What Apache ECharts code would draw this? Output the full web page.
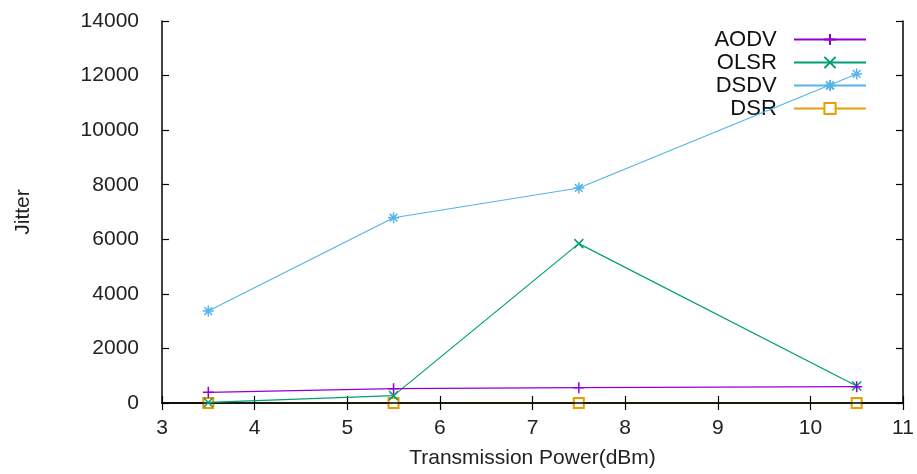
<!DOCTYPE html>
<html><head><meta charset="utf-8">
<script src="https://cdn.jsdelivr.net/npm/echarts@6/dist/echarts.min.js"></script>
<style>html,body{margin:0;padding:0;background:#fff}#c{width:917px;height:474px}</style>
</head><body><div id="c"></div>
<script>
var xValues = [3.5, 5.5, 7.5, 10.5];
var aodv = [390, 525, 560, 600];
var olsr = [20, 270, 5840, 620];
var dsdv = [3370, 6790, 7880, 12060];
var dsr  = [0, 0, 0, 0];
var seriesNames = ['AODV', 'OLSR', 'DSDV', 'DSR'];
var colors = ['#9400d3', '#009e73', '#56b4e9', '#e69f00'];
var xTitle = 'Transmission Power(dBm)';
var yTitle = 'Jitter';

var FONT = 'Liberation Sans';
var symPlus = 'path://M5,0L5,10M0,5L10,5';
var symCross = 'path://M0,0L10,10M10,0L0,10';
var symStar = 'path://M5,0L5,10M0,5L10,5M1.5,1.5L8.5,8.5M8.5,1.5L1.5,8.5';
var symbols = [symPlus, symCross, symStar, 'emptyRect'];
var sizes = [11, 9, 11, 10];
var allData = [aodv, olsr, dsdv, dsr];

function pairs(arr){ return xValues.map(function(x,i){ return [x, arr[i]]; }); }

var series = seriesNames.map(function(n, k){
  var isRect = symbols[k] === 'emptyRect';
  return {
    name: n, type: 'line', xAxisIndex: 0, yAxisIndex: 0,
    data: pairs(allData[k]),
    symbol: symbols[k], symbolSize: sizes[k], showAllSymbol: true,
    lineStyle: { color: colors[k], width: 1.2 },
    itemStyle: isRect ? { color: colors[k], borderColor: colors[k], borderWidth: 1.5 }
                      : { color: 'rgba(0,0,0,0)', borderColor: colors[k], borderWidth: 1.5 },
    emphasis: { disabled: true },
    animation: false, z: isRect ? 1 : 3 + (3 - k)
  };
});

var axisLineStyle = { show: true, lineStyle: { color: '#000', width: 1.5 } };
var tickStyle = { show: true, inside: true, length: 7, lineStyle: { color: '#000', width: 1.2 } };

var option = {
  backgroundColor: '#fff',
  animation: false,
  grid: { left: 162, right: 14, top: 21, bottom: 67, show: false },
  legend: {
    orient: 'vertical', right: 45, top: 23, align: 'right',
    itemWidth: 72, itemHeight: 14, itemGap: 0,
    formatter: function(n){ return n + '  '; },
    textStyle: { fontFamily: FONT, fontSize: 22, color: '#111', lineHeight: 23 },
    data: seriesNames
  },
  xAxis: [{
    type: 'value', min: 3, max: 11, interval: 1, z: 2,
    axisLine: axisLineStyle, axisTick: tickStyle, splitLine: { show: false },
    axisLabel: { fontFamily: FONT, fontSize: 21, color: '#222', margin: 15 },
    name: xTitle, nameLocation: 'middle', nameGap: 45,
    nameTextStyle: { fontFamily: FONT, fontSize: 21, color: '#222' }
  }, {
    type: 'value', min: 3, max: 11, interval: 1, position: 'top',
    axisLine: axisLineStyle, axisTick: tickStyle, splitLine: { show: false },
    axisLabel: { show: false }
  }],
  yAxis: [{
    type: 'value', min: 0, max: 14000, interval: 2000,
    axisLine: axisLineStyle, axisTick: tickStyle, splitLine: { show: false },
    axisLabel: { fontFamily: FONT, fontSize: 21, color: '#222', margin: 23,
      formatter: function(v){ return String(v); } },
    name: yTitle, nameLocation: 'middle', nameGap: 128, nameRotate: 90,
    nameTextStyle: { fontFamily: FONT, fontSize: 21, color: '#222' }
  }, {
    type: 'value', min: 0, max: 14000, interval: 2000, position: 'right',
    axisLine: axisLineStyle, axisTick: tickStyle, splitLine: { show: false },
    axisLabel: { show: false }
  }],
  series: series
};
var chart = echarts.init(document.getElementById('c'), null, { renderer: 'canvas' });
chart.setOption(option);
</script></body></html>
